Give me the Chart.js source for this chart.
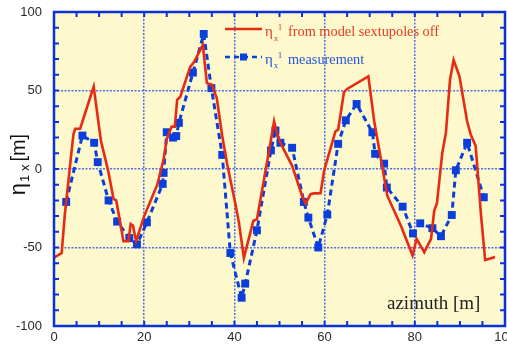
<!DOCTYPE html>
<html>
<head>
<meta charset="utf-8">
<script src="https://cdn.jsdelivr.net/npm/chart.js@4.4.1/dist/chart.umd.min.js"></script>
<style>
  html, body { margin: 0; padding: 0; overflow: hidden; background: #ffffff; width: 507px; height: 348px; }
  #wrap { position: absolute; left: 0; top: 0; width: 520px; height: 348px; }
  canvas { display: block; }
</style>
</head>
<body>
<div id="wrap"><canvas id="c" width="520" height="348"></canvas></div>
<script>
// Model dispersion (sextupoles off): azimuth [m] and eta_x^1 [m]
const modelAzimuth = [0, 1.7, 2.4, 4.3, 4.7, 5.8, 6.5, 8.8, 10.4, 12.0, 13.2, 13.8, 15.4, 16.5, 17.0, 17.5, 18.2,
  20.0, 21.3, 22.9, 24.3, 25.0, 26.1, 26.8, 27.3, 28.0, 30.2, 31.0, 33.0, 33.9, 35.0, 36.1, 37.3, 38.4,
  40.2, 41.0, 42.1, 44.2, 45.0, 48.0, 48.8, 49.4, 50.2, 52.8, 55.0, 55.8, 56.9, 57.6, 59.1, 59.9,
  62.4, 63.0, 64.3, 65.0, 69.7, 71.0, 71.4, 73.9, 76.9, 79.5, 80.4, 82.1, 83.6, 84.3, 84.9,
  86.1, 86.9, 87.8, 88.6, 89.9, 91.6, 92.4, 93.5, 94.7, 95.6, 97.8];
const modelEta = [-56.5, -53.5, -29, 22, 25.6, 25.6, 32, 52.5, 18, -1, -19, -20, -46, -46, -35, -36, -46,
  -30, -21, -10, 6, 19, 27, 27, 44, 46, 65, 68, 79, 54.7, 53.6, 45, 21, 3,
  -22, -34, -56.7, -33, -32, 16.7, 30.4, 23, 16.7, 2, -17, -22, -16, -15.5, -15.4, -1,
  24, 25, 49, 51, 59, 30.4, 24, -17, -36, -55, -44.5, -53, -44.5, -26.6, -22,
  10.4, 23, 56.8, 69.4, 59, 30.4, 22, 14.6, -30, -58, -56];

// Measured dispersion at the BPMs
const measAzimuth = [2.7, 6.3, 8.9, 9.7, 12.1, 14.0, 16.7, 18.4, 20.6, 24.1, 24.3, 25.0, 26.4, 27.1, 27.7,
  30.8, 33.2, 34.9, 37.3, 39.1, 41.6, 42.4, 45.0, 48.1, 49.1, 50.2, 52.8, 55.4, 56.4, 58.6,
  60.6, 63.0, 64.7, 67.1, 70.6, 71.2, 73.2, 73.8, 77.3, 79.6, 81.2, 83.9, 85.8, 88.2, 89.1, 91.6, 95.3];
const measEta = [-21, 21.3, 16.7, 4.4, -20, -33.5, -44, -48, -34, -9.5, -2.5, 23.4, 20, 21, 29.4,
  61.4, 86, 51.5, 9, -53.5, -82, -73, -39, 11.8, 24.5, 16.7, 13.5, -21, -31, -50,
  -29, 16, 31, 41.4, 23.4, 9.7, 3.4, -11.8, -24, -41, -34.6, -37.7, -42.8, -29.3, -0.8, 16.7, -18];

const xTicks = [0, 20, 40, 60, 80, 100];
const yTicks = [-100, -50, 0, 50, 100];

const RED = '#e62a14';
const BLUE = '#0a3fdc';
const AXIS_BLUE = '#0a32d8';
const GRID_BLUE = '#4f6ff0';

function pts(xs, ys) { return xs.map((x, i) => ({ x: x, y: ys[i] })); }

// Text with sub/superscripts: η, subscript x, superscript 1, then the rest
function drawEtaLabel(ctx, x, y, rest, color) {
  ctx.save();
  ctx.fillStyle = color;
  ctx.textBaseline = 'alphabetic';
  ctx.textAlign = 'left';
  ctx.font = '15px "Liberation Serif"';
  ctx.fillText('η', x, y);
  const w = ctx.measureText('η').width;
  ctx.font = '9px "Liberation Serif"';
  ctx.fillText('x', x + w + 1, y + 4.5);
  ctx.fillText('1', x + w + 5, y - 6);
  ctx.font = '14.3px "Liberation Serif"';
  ctx.fillText(rest, x + 23, y);
  ctx.restore();
}

const decor = {
  id: 'decor',
  beforeDraw(chart) {
    const { ctx, chartArea: a } = chart;
    ctx.save();
    ctx.fillStyle = '#fdf9cd';
    ctx.fillRect(a.left, a.top, a.right - a.left, a.bottom - a.top);
    ctx.restore();
  },
  afterDatasetsDraw(chart) {
    const { ctx, chartArea: a } = chart;
    const xs = chart.scales.x, ys = chart.scales.y;
    ctx.save();
    // frame
    ctx.strokeStyle = AXIS_BLUE;
    ctx.lineWidth = 2.5;
    ctx.strokeRect(a.left, a.top, a.right - a.left, a.bottom - a.top);
    // inward ticks on all four sides
    ctx.lineWidth = 2;
    ctx.beginPath();
    for (let v = 5; v < 100; v += 5) {
      const px = xs.getPixelForValue(v);
      ctx.moveTo(px, a.bottom); ctx.lineTo(px, a.bottom - 5);
      ctx.moveTo(px, a.top); ctx.lineTo(px, a.top + 5);
    }
    for (let v = -90; v < 100; v += 10) {
      const py = ys.getPixelForValue(v);
      ctx.moveTo(a.left, py); ctx.lineTo(a.left + 5, py);
      ctx.moveTo(a.right, py); ctx.lineTo(a.right - 5, py);
    }
    ctx.stroke();
    ctx.restore();

    // legend
    ctx.save();
    ctx.strokeStyle = RED;
    ctx.lineWidth = 2.5;
    ctx.beginPath(); ctx.moveTo(225, 29); ctx.lineTo(262, 29); ctx.stroke();
    ctx.strokeStyle = BLUE;
    ctx.setLineDash([5, 4]);
    ctx.beginPath(); ctx.moveTo(225, 57); ctx.lineTo(262, 57); ctx.stroke();
    ctx.setLineDash([]);
    ctx.fillStyle = BLUE;
    ctx.fillRect(240, 53.5, 7, 7);
    ctx.restore();
    drawEtaLabel(ctx, 265, 36, 'from model sextupoles off', '#e63a24');
    drawEtaLabel(ctx, 265, 63.5, 'measurement', '#2a55dc');

    // x axis caption inside the plot
    ctx.save();
    ctx.fillStyle = '#222222';
    ctx.font = '19px "Liberation Serif"';
    ctx.textAlign = 'left';
    ctx.textBaseline = 'alphabetic';
    ctx.fillText('azimuth [m]', 387, 309);
    ctx.restore();

    // y axis title: η with subscript "1 x", then [m]
    ctx.save();
    ctx.translate(25, 165);
    ctx.rotate(-Math.PI / 2);
    ctx.fillStyle = '#111111';
    ctx.textBaseline = 'alphabetic';
    ctx.textAlign = 'left';
    ctx.font = '22px "Liberation Sans"';
    const wEta = ctx.measureText('η').width;
    ctx.font = '13px "Liberation Sans"';
    const sub = '1 x';
    const wSub = ctx.measureText(sub).width;
    ctx.font = '20px "Liberation Sans"';
    const rest = '[m]';
    const wRest = ctx.measureText(rest).width;
    const total = wEta + wSub + 3 + wRest;
    let x0 = -total / 2;
    ctx.font = '22px "Liberation Sans"';
    ctx.fillText('η', x0, 0);
    ctx.font = '13px "Liberation Sans"';
    ctx.fillText(sub, x0 + wEta + 1, 4);
    ctx.font = '20px "Liberation Sans"';
    ctx.fillText(rest, x0 + wEta + wSub + 4, 0);
    ctx.restore();
  }
};

new Chart(document.getElementById('c'), {
  type: 'line',
  data: {
    datasets: [
      {
        label: 'model',
        data: pts(modelAzimuth, modelEta),
        borderColor: RED,
        borderWidth: 2.6,
        pointRadius: 0,
        tension: 0,
        fill: false
      },
      {
        label: 'measurement',
        data: pts(measAzimuth, measEta),
        borderColor: BLUE,
        borderWidth: 3,
        borderDash: [6, 4],
        pointStyle: 'rect',
        pointRadius: 5.6,
        pointBackgroundColor: BLUE,
        pointBorderColor: BLUE,
        pointBorderWidth: 0,
        tension: 0,
        fill: false
      }
    ]
  },
  options: {
    responsive: false,
    animation: false,
    devicePixelRatio: 1,
    layout: { padding: { top: 12, right: 15, left: 0, bottom: 0 } },
    plugins: { legend: { display: false }, tooltip: { enabled: false } },
    scales: {
      x: {
        type: 'linear',
        min: 0, max: 100,
        afterBuildTicks: s => { s.ticks = xTicks.map(v => ({ value: v })); },
        afterFit: s => { s.height = 22; },
        ticks: { color: '#2a2a2a', font: { family: '"Liberation Sans"', size: 13 }, padding: 4, maxRotation: 0 },
        grid: {
          drawTicks: false,
          lineWidth: 1.5,
          color: c => (c.tick && (c.tick.value === 0 || c.tick.value === 100)) ? 'rgba(0,0,0,0)' : GRID_BLUE
        },
        border: { display: false, dash: [2, 1.5] }
      },
      y: {
        type: 'linear',
        min: -100, max: 100,
        afterBuildTicks: s => { s.ticks = yTicks.map(v => ({ value: v })); },
        afterFit: s => { s.width = 54; s.paddingTop = 0; s.paddingBottom = 0; },
        ticks: { color: '#2a2a2a', font: { family: '"Liberation Sans"', size: 13 }, padding: 12 },
        grid: {
          drawTicks: false,
          lineWidth: 1.5,
          color: c => (c.tick && (c.tick.value === -100 || c.tick.value === 100)) ? 'rgba(0,0,0,0)' : GRID_BLUE
        },
        border: { display: false, dash: [2, 1.5] }
      }
    }
  },
  plugins: [decor]
});
</script>
</body>
</html>
